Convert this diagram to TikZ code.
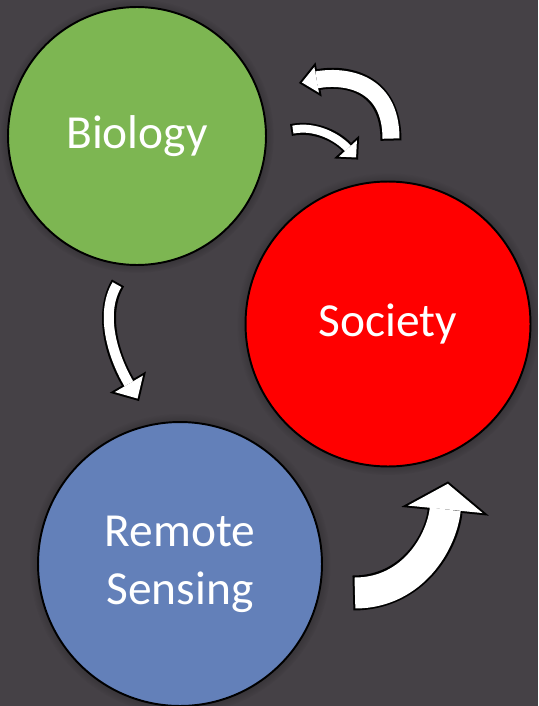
\documentclass[tikz,border=0pt]{standalone}
\usepackage{fontspec}
\setmainfont{Carlito}
\usetikzlibrary{arrows.meta,calc,shadows}

\definecolor{slate}{RGB}{69,65,70}
\definecolor{biogreen}{RGB}{125,182,82}
\definecolor{socred}{RGB}{255,0,0}
\definecolor{rsblue}{RGB}{99,128,185}

\begin{document}
\begin{tikzpicture}[x=0.02cm, y=-0.02cm]
  \tikzstyle{circ} = [circle, draw=black, line width=1.1pt, text=white, align=center,
    font=\fontsize{27}{33}\selectfont,
    circular glow={fill=black, opacity=0.45, shadow scale=1.06}]
  \tikzstyle{rim} = [draw=black, line cap=butt]
  \tikzstyle{core} = [draw=white, line cap=butt]

  % background
  \fill[slate] (0,0) rectangle (538,706);
  \useasboundingbox (0,0) rectangle (538,706);

  % Circles
  \node (bio) [circ, fill=biogreen, minimum size=5.16cm] at (137,136) {\raisebox{-3pt}{Biology}};
  \node (soc) [circ, fill=socred, minimum size=5.7cm] at (388,324) {\raisebox{-3pt}{Society}};
  \node (rs) [circ, fill=rsblue, minimum size=5.68cm] at (180,564) {Remote\\Sensing};

  % Arrow ends
  \coordinate (s1) at ($(soc.north)+(3,-40)$);
  \coordinate (e1) at ($(bio.east)+(32,-53)$);
  \coordinate (s2) at ($(bio.east)+(24,-6)$);
  \coordinate (e2) at ($(soc.north)+(-30,-21)$);
  \coordinate (s3) at ($(bio.south)+(-19,17)$);
  \coordinate (e3) at ($(rs.north)+(-41,-20)$);
  \coordinate (s4) at ($(rs.east)+(30,29)$);
  \coordinate (e4) at ($(soc.south)+(60,14)$);

  % Society -> Biology
  \draw[rim, line width=0.42cm, -{Triangle[length=0.40cm, width=0.70cm, line width=0pt]}]
    (s1) .. controls +(0,-60) and +(45,-8) .. (e1);
  \draw[core, line width=0.34cm, shorten <=0.04cm, shorten >=0.062cm,
    -{Triangle[length=0.298cm, width=0.52cm, line width=0pt]}]
    (s1) .. controls +(0,-60) and +(45,-8) .. (e1);

  % Biology -> Society
  \draw[rim, line width=0.24cm, -{Triangle[length=0.34cm, width=0.68cm, line width=0pt]}]
    (s2) .. controls +(25,-5) and +(-20,-22) .. (e2);
  \draw[core, line width=0.16cm, shorten <=0.04cm, shorten >=0.057cm,
    -{Triangle[length=0.243cm, width=0.487cm, line width=0pt]}]
    (s2) .. controls +(25,-5) and +(-20,-22) .. (e2);

  % Biology -> Remote Sensing
  \draw[rim, line width=0.28cm, -{Triangle[length=0.44cm, width=0.84cm, line width=0pt]}]
    (s3) .. controls +(-18,30) and +(-27,-46) .. (e3);
  \draw[core, line width=0.20cm, shorten <=0.04cm, shorten >=0.058cm,
    -{Triangle[length=0.342cm, width=0.652cm, line width=0pt]}]
    (s3) .. controls +(-18,30) and +(-27,-46) .. (e3);

  % Remote Sensing -> Society
  \draw[rim, line width=0.70cm, -{Triangle[length=0.60cm, width=1.76cm, line width=0pt]}]
    (s4) .. controls +(60,0) and +(-6,60) .. (e4);
  \draw[core, line width=0.62cm, shorten <=0.04cm, shorten >=0.048cm,
    -{Triangle[length=0.512cm, width=1.50cm, line width=0pt]}]
    (s4) .. controls +(60,0) and +(-6,60) .. (e4);

\end{tikzpicture}
\end{document}
